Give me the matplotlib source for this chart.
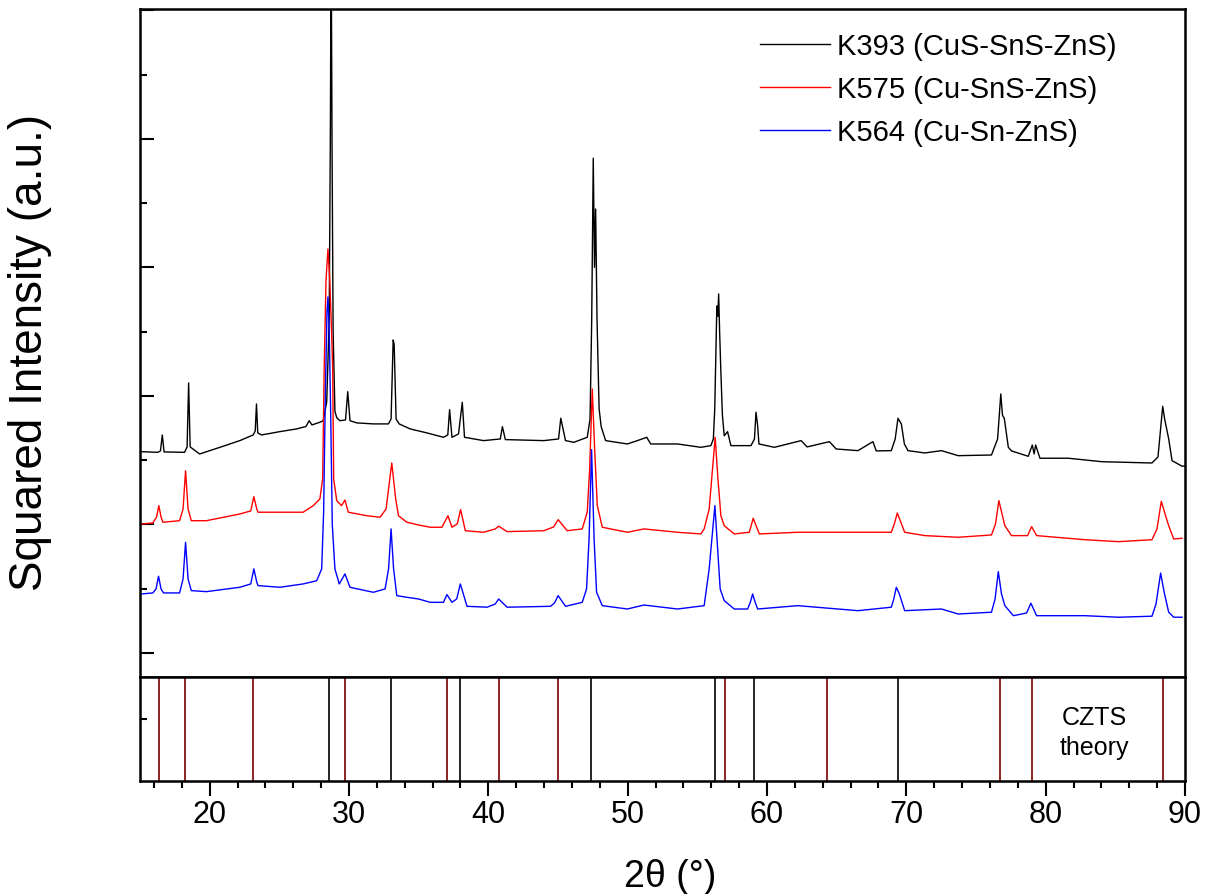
import matplotlib
matplotlib.use("Agg")
import matplotlib.pyplot as plt
from matplotlib.ticker import MultipleLocator

plt.rcParams['font.family'] = ['Liberation Sans', 'DejaVu Sans']

# ---- data (2theta in degrees, squared intensity in a.u.) ----
k393_tth = [15.10, 16.28, 16.47, 16.60, 16.73, 18.20, 18.38, 18.49, 18.60, 19.28, 20.96, 22.16, 23.12, 23.27,
            23.36, 23.45, 23.72, 25.04, 26.24, 26.91, 27.14, 27.34, 27.91, 28.15, 28.40, 28.58, 28.66, 28.72,
            28.78, 28.86, 28.99, 29.12, 29.35, 29.75, 29.91, 30.07, 30.55, 31.75, 32.83, 33.02, 33.17, 33.24,
            33.38, 33.60, 34.39, 35.59, 36.78, 37.09, 37.22, 37.39, 37.86, 38.13, 38.29, 39.66, 40.86, 41.01,
            41.22, 43.98, 45.04, 45.20, 45.54, 46.14, 47.10, 47.30, 47.42, 47.53, 47.62, 47.70, 47.80, 47.95,
            48.10, 48.42, 49.98, 50.70, 51.37, 51.65, 53.58, 55.25, 55.97, 56.15, 56.25, 56.40, 56.47, 56.53,
            56.60, 56.69, 56.80, 56.93, 57.17, 57.41, 58.85, 59.10, 59.21, 59.33, 59.42, 60.53, 62.45, 62.88,
            64.48, 64.96, 66.53, 67.60, 67.84, 68.92, 69.20, 69.40, 69.64, 69.86, 70.12, 71.32, 72.52, 73.72,
            76.11, 76.55, 76.78, 76.90, 77.03, 77.32, 77.55, 78.75, 79.04, 79.17, 79.28, 79.59, 81.63, 84.03,
            87.63, 88.06, 88.40, 88.54, 88.83, 89.07, 89.79, 89.95]
k393_int = [156.6, 156.1, 157.2, 169.6, 156.4, 156.1, 160.3, 210.1, 160.3, 154.8, 160.8, 165.2, 169.6, 172.7,
            193.7, 171.2, 169.6, 172.2, 174.3, 176.2, 180.7, 177.4, 179.5, 180.7, 195.3, 260.0, 400.0, 560.0,
            400.0, 250.0, 188.0, 183.0, 180.7, 181.3, 203.3, 180.7, 179.0, 178.2, 178.2, 182.0, 243.5, 240.4,
            182.0, 178.2, 174.3, 171.2, 167.8, 169.6, 189.3, 167.8, 170.4, 195.0, 167.8, 165.2, 166.5, 176.1,
            166.0, 165.2, 166.5, 182.6, 165.2, 163.9, 167.8, 182.0, 260.0, 384.9, 300.0, 345.4, 260.0, 190.0,
            176.0, 165.2, 162.6, 165.2, 167.8, 162.6, 162.6, 160.0, 161.3, 166.5, 190.0, 270.0, 262.0, 279.3,
            250.0, 218.4, 185.0, 169.0, 172.2, 161.3, 161.3, 166.5, 187.3, 176.8, 162.6, 160.0, 165.2, 160.3,
            164.4, 158.7, 157.4, 164.4, 157.2, 157.4, 166.5, 182.6, 178.2, 162.6, 157.4, 155.6, 157.4, 153.5,
            154.0, 166.5, 201.5, 185.0, 182.6, 160.0, 157.2, 153.0, 161.8, 154.8, 161.8, 151.5, 151.5, 148.8,
            147.8, 152.5, 191.9, 182.0, 166.5, 149.6, 145.3, 145.5]

k575_tth = [15.09, 15.92, 16.19, 16.35, 16.51, 16.64, 17.84, 18.09, 18.27, 18.45, 18.68, 19.76, 22.16, 22.95,
            23.17, 23.38, 23.47, 25.04, 26.71, 27.43, 27.91, 28.11, 28.22, 28.35, 28.49, 28.62, 28.75, 28.83,
            28.90, 29.12, 29.47, 29.71, 29.95, 31.27, 32.23, 32.66, 33.07, 33.35, 33.55, 34.15, 34.99, 35.82,
            36.67, 37.10, 37.39, 37.77, 38.01, 38.35, 39.66, 40.50, 40.74, 41.35, 43.98, 44.68, 45.01, 45.66,
            46.74, 47.10, 47.27, 47.46, 47.63, 47.82, 48.18, 49.98, 51.17, 53.58, 55.25, 55.49, 55.85, 56.28,
            56.48, 56.69, 56.93, 57.65, 58.73, 59.01, 59.45, 62.21, 64.37, 67.48, 68.92, 69.14, 69.35, 69.57,
            69.88, 71.32, 73.72, 76.11, 76.40, 76.64, 76.87, 77.07, 77.55, 78.70, 78.99, 79.35, 82.83, 85.23,
            87.63, 87.99, 88.30, 88.57, 88.83, 89.19, 89.79]
k575_int = [100.4, 101.1, 105.8, 114.6, 105.8, 101.7, 102.9, 112.0, 141.8, 112.0, 102.9, 102.9, 108.1, 110.5,
            121.6, 112.0, 109.5, 109.5, 109.5, 114.6, 119.8, 135.4, 221.0, 290.0, 314.3, 290.0, 250.0, 221.0,
            135.4, 118.5, 114.6, 119.0, 109.5, 106.8, 105.6, 112.0, 147.8, 119.8, 106.8, 101.7, 99.6, 97.8,
            97.8, 106.8, 97.8, 100.4, 111.5, 95.1, 93.9, 96.5, 98.6, 94.4, 95.1, 98.0, 103.7, 95.1,
            96.5, 109.7, 143.0, 205.4, 158.7, 114.6, 97.8, 93.9, 96.5, 93.9, 92.6, 96.5, 112.0, 167.8,
            135.4, 106.8, 99.0, 92.6, 93.9, 104.8, 92.6, 93.9, 93.9, 93.9, 93.9, 100.4, 108.9, 102.7,
            93.9, 91.3, 90.0, 91.8, 100.4, 118.5, 108.1, 99.0, 91.3, 91.3, 98.3, 91.3, 88.1, 86.6,
            88.1, 96.5, 118.0, 108.1, 99.0, 88.7, 89.2]

k564_tth = [15.09, 15.92, 16.15, 16.33, 16.51, 16.69, 17.84, 18.09, 18.27, 18.45, 18.68, 19.76, 22.16, 22.95,
            23.17, 23.38, 23.47, 25.04, 26.71, 27.68, 28.04, 28.18, 28.30, 28.42, 28.49, 28.58, 28.68, 28.80,
            28.99, 29.30, 29.71, 30.07, 31.75, 32.59, 32.84, 33.02, 33.20, 33.43, 34.15, 34.99, 35.83, 36.78,
            37.03, 37.39, 37.73, 37.99, 38.47, 39.91, 40.50, 40.74, 41.35, 44.46, 44.75, 45.01, 45.54, 46.74,
            47.05, 47.23, 47.41, 47.59, 47.77, 48.18, 49.98, 51.17, 53.58, 55.49, 55.85, 56.26, 56.64, 56.93,
            57.65, 58.61, 58.81, 58.97, 59.14, 59.33, 62.21, 66.53, 68.92, 69.10, 69.28, 69.50, 69.88, 72.52,
            73.72, 76.11, 76.37, 76.60, 76.83, 77.07, 77.68, 78.63, 78.94, 79.35, 82.83, 85.23, 87.63, 87.92,
            88.25, 88.53, 88.83, 89.19, 89.79]
k564_int = [45.9, 46.7, 49.8, 59.7, 49.8, 46.7, 46.7, 57.6, 86.1, 57.6, 48.5, 47.7, 51.1, 53.7,
            65.4, 55.2, 52.4, 51.1, 53.7, 56.2, 65.4, 110.0, 200.0, 265.0, 277.0, 250.0, 190.0, 100.0,
            65.4, 53.7, 61.5, 51.1, 47.2, 49.8, 65.4, 96.5, 65.4, 44.6, 43.3, 42.0, 39.4, 39.4,
            45.4, 39.4, 42.0, 53.7, 36.3, 35.6, 38.1, 42.0, 35.6, 36.3, 38.9, 44.6, 36.3, 39.4,
            49.8, 88.7, 158.2, 88.7, 47.2, 36.8, 34.2, 37.3, 34.2, 36.8, 65.4, 114.6, 49.8, 40.7,
            34.2, 34.2, 39.7, 45.9, 39.7, 34.2, 36.8, 32.9, 35.6, 42.0, 51.1, 45.9, 32.9, 34.2,
            30.3, 31.7, 42.0, 63.3, 45.9, 36.8, 29.0, 31.1, 38.7, 29.0, 29.0, 27.8, 28.6, 38.1,
            62.2, 45.9, 31.7, 27.8, 27.8]

series_labels = ["K393 (CuS-SnS-ZnS)", "K575 (Cu-SnS-ZnS)", "K564 (Cu-Sn-ZnS)"]
series_colors = ["black", "#ff0000", "#0000ff"]

# CZTS theoretical reflections (2theta)
czts_black = [28.56, 33.00, 37.99, 47.39, 56.26, 59.07, 69.40]
czts_red = [16.33, 18.20, 23.10, 29.69, 37.05, 40.80, 45.03, 56.96, 64.30, 76.70, 79.00, 88.40]

xticks_major = [20, 30, 40, 50, 60, 70, 80, 90]

# ---- figure ----
W, H = 1213, 895
fig = plt.figure(figsize=(W / 100, H / 100), dpi=100)
L, R = 140, 1185
ax1 = fig.add_axes([L / W, 1 - 678 / H, (R - L) / W, 668 / H])
ax2 = fig.add_axes([L / W, 1 - 782 / H, (R - L) / W, 104 / H], sharex=ax1)

for tth, inten, lab, col in zip([k393_tth, k575_tth, k564_tth],
                                [k393_int, k575_int, k564_int],
                                series_labels, series_colors):
    ax1.plot(tth, inten, color=col, lw=1.0, label=lab)

ax1.set_xlim(15, 90)
ax1.set_ylim(-18.7, 501)
ax1.yaxis.set_major_locator(MultipleLocator(100))
ax1.yaxis.set_minor_locator(MultipleLocator(50))
ax1.tick_params(axis='y', which='major', direction='in', length=10, width=1.5, labelleft=False)
ax1.tick_params(axis='y', which='minor', direction='in', length=5, width=1.5)
ax1.tick_params(axis='x', which='both', bottom=False, labelbottom=False)
for sp in ax1.spines.values():
    sp.set_linewidth(1.8)

leg = ax1.legend(loc='upper left', bbox_to_anchor=(760 / W, 1 - 33 / H),
                 bbox_transform=fig.transFigure, frameon=False, fontsize=21,
                 handlelength=2.4, handletextpad=0.25, labelspacing=0.52,
                 borderpad=0, borderaxespad=0)
for ln in leg.get_lines():
    ln.set_linewidth(1.0)

for p in czts_red:
    ax2.axvline(p, color='#7a0000', lw=1.2)
for p in czts_black:
    ax2.axvline(p, color='black', lw=1.2)
ax2.set_ylim(0, 1)
ax2.set_yticks([0.6])
ax2.tick_params(axis='y', direction='in', length=5, width=1.5, labelleft=False)
ax2.set_xticks(xticks_major)
ax2.xaxis.set_minor_locator(MultipleLocator(2))
ax2.tick_params(axis='x', which='major', direction='out', length=11, width=1.5, labelsize=22, pad=2)
ax2.tick_params(axis='x', which='minor', direction='out', length=5, width=1.5)
for sp in ax2.spines.values():
    sp.set_linewidth(1.8)
ax2.text((1094 - L) / (R - L), 0.47, "CZTS\ntheory", transform=ax2.transAxes,
         fontsize=18, ha='center', va='center', linespacing=1.35)

fig.text(30 / W, 1 - 352 / H, "Squared Intensity (a.u.)", rotation=90,
         fontsize=33, ha='center', va='center')
fig.text(670 / W, 1 - 877 / H, "2θ (°)", fontsize=27, ha='center', va='center')

fig.savefig("out.png", dpi=100)
